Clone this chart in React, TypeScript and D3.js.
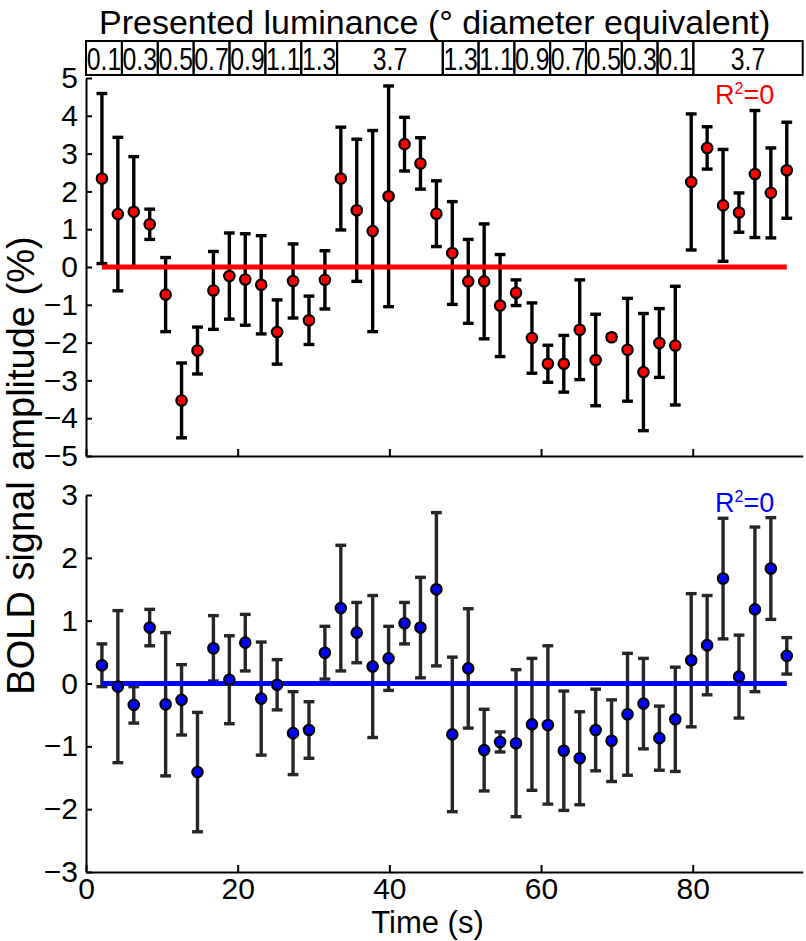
import { useEffect, useRef } from 'react';
import { select, scaleLinear, axisLeft, axisBottom, format } from 'd3';

// sample times (s), one per TR
const times = [
  2.1, 4.2, 6.3, 8.4, 10.5, 12.6, 14.7, 16.8, 18.9, 21.0, 23.1,
  25.2, 27.3, 29.4, 31.5, 33.6, 35.7, 37.8, 39.9, 42.0, 44.1, 46.2,
  48.3, 50.4, 52.5, 54.6, 56.7, 58.8, 60.9, 63.0, 65.1, 67.2, 69.3,
  71.4, 73.5, 75.6, 77.7, 79.8, 81.9, 84.0, 86.1, 88.2, 90.3, 92.4,
];

// top panel (red)
const topMean = [
  2.34, 1.4, 1.46, 1.13, -0.73, -3.53, -2.21, -0.62, -0.24, -0.33, -0.47,
  -1.72, -0.37, -1.41, -0.34, 2.34, 1.5, 0.95, 1.87, 3.25, 2.74, 1.41,
  0.37, -0.38, -0.38, -1.02, -0.68, -1.88, -2.56, -2.56, -1.66, -2.46, -1.86,
  -2.19, -2.78, -2.01, -2.08, 2.25, 3.15, 1.63, 1.44, 2.46, 1.96, 2.56,
];
const topErr = [
  2.25, 2.03, 1.46, 0.4, 0.98, 0.99, 0.62, 1.03, 1.14, 1.21, 1.3,
  0.85, 0.98, 0.64, 0.77, 1.36, 1.88, 2.66, 2.92, 0.71, 0.68, 0.87,
  1.36, 1.11, 1.52, 1.35, 0.34, 0.93, 0.49, 0.75, 1.32, 1.21, 0.06,
  1.36, 1.55, 0.91, 1.57, 1.8, 0.56, 1.48, 0.52, 1.68, 1.19, 1.27,
];

// bottom panel (blue)
const botMean = [
  0.29, -0.05, -0.34, 0.89, -0.33, -0.26, -1.41, 0.56, 0.06, 0.65, -0.24,
  -0.02, -0.79, -0.74, 0.49, 1.2, 0.81, 0.27, 0.4, 0.96, 0.89, 1.5,
  -0.81, 0.24, -1.06, -0.93, -0.95, -0.65, -0.66, -1.07, -1.19, -0.74, -0.91,
  -0.49, -0.32, -0.87, -0.57, 0.37, 0.61, 1.67, 0.11, 1.18, 1.83, 0.44,
];
const botErr = [
  0.34, 1.21, 0.29, 0.29, 1.14, 0.56, 0.95, 0.52, 0.7, 0.45, 0.9,
  0.4, 0.66, 0.45, 0.42, 1.0, 0.48, 1.13, 0.51, 0.33, 0.8, 1.22,
  1.23, 0.95, 0.65, 0.16, 1.17, 1.05, 1.26, 0.95, 0.74, 0.65, 0.65,
  0.97, 0.72, 0.51, 0.83, 1.06, 0.79, 0.96, 0.66, 1.31, 0.81, 0.29,
];

// flat fits (R^2 = 0)
const topFit = 0;
const botFit = 0;

const xTicks = [0, 20, 40, 60, 80];
const topYTicks = [-5, -4, -3, -2, -1, 0, 1, 2, 3, 4, 5];
const botYTicks = [-3, -2, -1, 0, 1, 2, 3];

// presented luminance blocks
const lumLabels = ['0.1', '0.3', '0.5', '0.7', '0.9', '1.1', '1.3', '3.7', '1.3', '1.1', '0.9', '0.7', '0.5', '0.3', '0.1', '3.7'];
const lumDurations = [4.73, 4.73, 4.73, 4.73, 4.73, 4.73, 4.73, 13.93, 4.72, 4.72, 4.72, 4.72, 4.72, 4.72, 4.72, 14.42];

const FONT = '"Liberation Sans", Arial, Helvetica, sans-serif';

export default function App() {
  const svgRef = useRef<SVGSVGElement>(null);

  useEffect(() => {
    document.body.style.margin = '0';
    const svg = select(svgRef.current);
    svg.selectAll('*').remove();

    const x = scaleLinear().domain([0, 94.5]).range([86, 802.7]);
    const fmt = format('d');

    // title + header strip
    svg.append('text')
      .attr('x', 434.7).attr('y', 33.5)
      .attr('text-anchor', 'middle')
      .attr('font-family', FONT).attr('font-size', 34)
      .text('Presented luminance (° diameter equivalent)');

    let acc = 0;
    const cells = lumLabels.map((lab, i) => {
      const s = acc;
      acc += lumDurations[i];
      return { lab, s, e: acc };
    });
    const hdr = svg.append('g');
    hdr.selectAll('rect')
      .data(cells)
      .join('rect')
      .attr('x', (d) => x(d.s))
      .attr('y', 41)
      .attr('width', (d) => x(d.e) - x(d.s))
      .attr('height', 34)
      .attr('fill', 'none')
      .attr('stroke', '#000')
      .attr('stroke-width', 2);
    hdr.selectAll('text')
      .data(cells)
      .join('text')
      .attr('transform', (d) => `translate(${(x(d.s) + x(d.e)) / 2},70) scale(0.8,1)`)
      .attr('text-anchor', 'middle')
      .attr('font-family', FONT).attr('font-size', 31)
      .text((d) => d.lab);

    const drawPanel = (
      mean: number[], err: number[], fit: number,
      yDomain: [number, number], yRange: [number, number], yTicks: number[],
      color: string, barColor: string, xLabels: boolean, r2y: number,
    ) => {
      const y = scaleLinear().domain(yDomain).range(yRange);
      const g = svg.append('g');

      const ya = g.append('g')
        .attr('transform', `translate(${x(0)},0)`)
        .call(axisLeft(y).tickValues(yTicks).tickSize(-6).tickSizeOuter(0).tickPadding(8)
          .tickFormat((d) => fmt(d as number)));
      const xa = g.append('g')
        .attr('transform', `translate(0,${yRange[0]})`)
        .call(axisBottom(x).tickValues(xTicks).tickSize(-7).tickSizeOuter(0).tickPadding(6)
          .tickFormat((d) => (xLabels ? fmt(d as number) : '')));
      [ya, xa].forEach((a) => {
        a.attr('font-family', FONT).attr('font-size', 30);
        a.selectAll('path, line').attr('stroke', '#000').attr('stroke-width', 2);
        a.selectAll('text').attr('fill', '#000');
      });

      const pts = mean.map((m, i) => ({ t: times[i], m, e: err[i] }));

      // error bars
      const eb = g.append('g').attr('stroke', barColor).attr('stroke-width', 3.4);
      eb.selectAll('.v').data(pts).join('line').attr('class', 'v')
        .attr('x1', (d) => x(d.t)).attr('x2', (d) => x(d.t))
        .attr('y1', (d) => y(d.m - d.e)).attr('y2', (d) => y(d.m + d.e));
      eb.selectAll('.ct').data(pts).join('line').attr('class', 'ct')
        .attr('x1', (d) => x(d.t) - 5.4).attr('x2', (d) => x(d.t) + 5.4)
        .attr('y1', (d) => y(d.m + d.e)).attr('y2', (d) => y(d.m + d.e));
      eb.selectAll('.cb').data(pts).join('line').attr('class', 'cb')
        .attr('x1', (d) => x(d.t) - 5.4).attr('x2', (d) => x(d.t) + 5.4)
        .attr('y1', (d) => y(d.m - d.e)).attr('y2', (d) => y(d.m - d.e));

      // fit line
      g.append('line')
        .attr('x1', x(times[0])).attr('x2', x(times[times.length - 1]))
        .attr('y1', y(fit)).attr('y2', y(fit))
        .attr('stroke', color).attr('stroke-width', 5);

      // markers
      g.append('g').selectAll('circle').data(pts).join('circle')
        .attr('cx', (d) => x(d.t)).attr('cy', (d) => y(d.m))
        .attr('r', 5.2)
        .attr('fill', color).attr('stroke', '#000').attr('stroke-width', 2.2);

      const r2 = g.append('text')
        .attr('x', 715).attr('y', r2y)
        .attr('font-family', FONT).attr('font-size', 27)
        .attr('fill', color);
      r2.append('tspan').text('R');
      r2.append('tspan').attr('font-size', 16).attr('dy', -10).text('2');
      r2.append('tspan').attr('dy', 10).text('=0');
    };

    drawPanel(topMean, topErr, topFit, [-5, 5], [456, 78], topYTicks, '#ff0000', '#000', false, 104);
    drawPanel(botMean, botErr, botFit, [-3, 3], [872, 495], botYTicks, '#0000ff', '#262626', true, 511.5);

    svg.append('text')
      .attr('transform', 'translate(33.5,465.5) rotate(-90)')
      .attr('text-anchor', 'middle')
      .attr('font-family', FONT).attr('font-size', 38)
      .text('BOLD signal amplitude (%)');

    svg.append('text')
      .attr('x', 427.5).attr('y', 933)
      .attr('text-anchor', 'middle')
      .attr('font-family', FONT).attr('font-size', 31)
      .text('Time (s)');
  }, []);

  return (
    <svg
      ref={svgRef}
      width={806}
      height={941}
      style={{ display: 'block', background: '#fff' }}
    />
  );
}
